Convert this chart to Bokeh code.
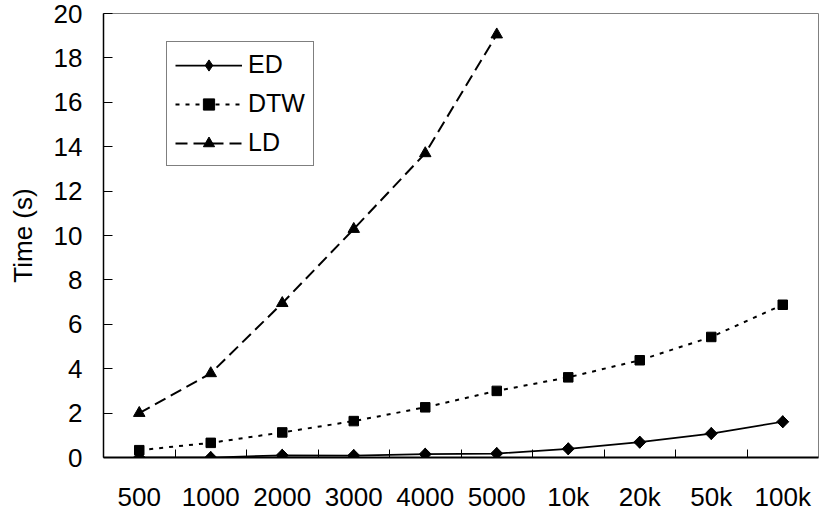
import math
from bokeh.plotting import figure
from bokeh.models import Range1d, FixedTicker, Legend, LegendItem
from bokeh.embed import file_html
from bokeh.resources import INLINE

categories = ["500", "1000", "2000", "3000", "4000", "5000", "10k", "20k", "50k", "100k"]
ed = [0.0, 0.0, 0.1, 0.09, 0.15, 0.18, 0.39, 0.69, 1.08, 1.61]
dtw = [0.33, 0.66, 1.13, 1.64, 2.26, 3.0, 3.61, 4.38, 5.43, 6.88]
ld = [2.0, 3.79, 6.95, 10.29, 13.7, 19.05]
y_ticks = list(range(0, 21, 2))

FONT = "Liberation Sans"

xs = [i + 0.5 for i in range(len(categories))]

p = figure(output_backend="svg", toolbar_location=None,
           frame_width=715, frame_height=444,
           x_range=Range1d(0, len(categories)), y_range=Range1d(0, 20),
           min_border_left=103, min_border_top=13, min_border_right=1, min_border_bottom=58)

p.xgrid.visible = False
p.ygrid.visible = False
p.outline_line_color = "#808080"
p.outline_line_width = 1
p.background_fill_color = "white"
p.border_fill_color = "white"

# x axis: labels at category centers, ticks at category boundaries
p.xaxis.ticker = FixedTicker(ticks=xs, minor_ticks=list(range(1, len(categories))))
p.xaxis.major_label_overrides = {x: c for x, c in zip(xs, categories)}
p.xaxis.major_tick_in = 0
p.xaxis.major_tick_out = 0
p.xaxis.minor_tick_in = 8
p.xaxis.minor_tick_out = 0
p.xaxis.minor_tick_line_color = "black"
p.xaxis.axis_line_color = "black"
p.xaxis.axis_line_width = 2
p.xaxis.major_label_text_font = FONT
p.xaxis.major_label_text_font_size = "26px"
p.xaxis.major_label_text_color = "black"
p.xaxis.major_label_standoff = 24

p.yaxis.ticker = FixedTicker(ticks=y_ticks)
p.yaxis.major_tick_in = 9
p.yaxis.major_tick_out = 0
p.yaxis.major_tick_line_color = "black"
p.yaxis.minor_tick_line_color = None
p.yaxis.axis_line_color = "black"
p.yaxis.axis_line_width = 1.5
p.yaxis.major_label_text_font = FONT
p.yaxis.major_label_text_font_size = "26px"
p.yaxis.major_label_text_color = "black"
p.yaxis.major_label_standoff = 21
p.yaxis.axis_label = "Time (s)"
p.yaxis.axis_label_text_font = FONT
p.yaxis.axis_label_text_font_size = "26px"
p.yaxis.axis_label_text_font_style = "normal"
p.yaxis.axis_label_text_color = "black"
p.yaxis.axis_label_standoff = 13

l1 = p.line(xs, ed, line_color="black", line_width=1.75)
m1 = p.scatter(xs, ed, marker="diamond", size=12, color="black")
p.scatter(xs, ed, marker="square", angle=math.pi / 4, size=8.5, color="black")
l2 = p.line(xs, dtw, line_color="black", line_width=2, line_dash="4 6")
m2 = p.scatter(xs, dtw, marker="square", size=9.5, color="black")
l3 = p.line(xs[:len(ld)], ld, line_color="black", line_width=2, line_dash="12 6")
m3 = p.scatter(xs[:len(ld)], ld, marker="triangle", size=11.5, color="black")

legend = Legend(items=[LegendItem(label="ED", renderers=[l1, m1]),
                       LegendItem(label="DTW", renderers=[l2, m2]),
                       LegendItem(label="LD", renderers=[l3, m3])],
                location=(63, 291), orientation="vertical",
                border_line_color="black", border_line_width=1,
                background_fill_color="white", background_fill_alpha=1,
                label_text_font=FONT, label_text_font_size="25px", label_text_color="black",
                glyph_width=67, glyph_height=28, label_height=28, spacing=10,
                padding=8, margin=0, label_standoff=6)
p.add_layout(legend, "center")

open("out.html", "w").write(file_html(p, INLINE))
